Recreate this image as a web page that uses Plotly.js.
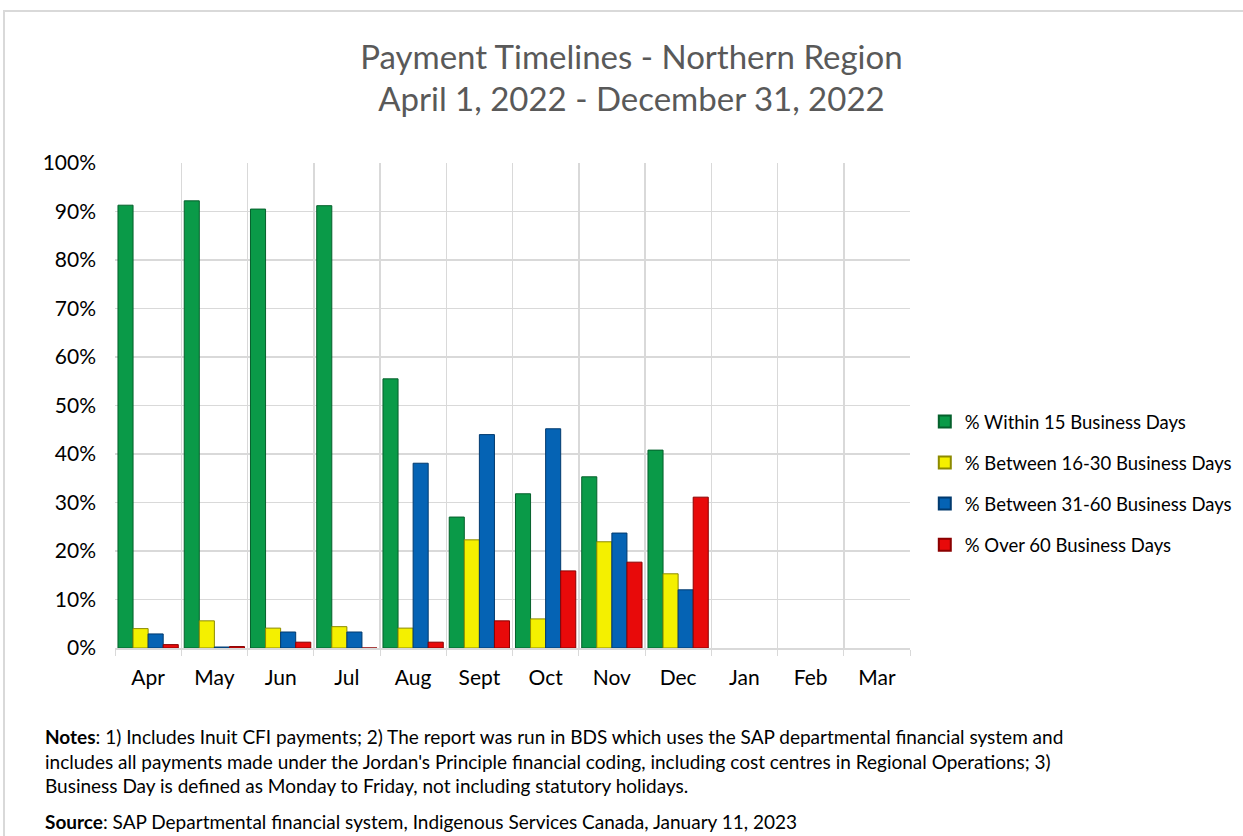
<!DOCTYPE html>
<html>
<head>
<meta charset="utf-8">
<script src="https://cdn.plot.ly/plotly-3.0.1.min.js"></script>
<style>
html,body{margin:0;padding:0;background:#fff;}
#frame{position:absolute;left:3px;top:10px;width:1260px;height:900px;border:2px solid #d9d9d9;box-sizing:border-box;}
#chart{position:absolute;left:0;top:0;width:1243px;height:836px;}
</style>
</head>
<body>
<div id="frame"></div>
<div id="chart"></div>
<script>
const months = ["Apr","May","Jun","Jul","Aug","Sept","Oct","Nov","Dec","Jan","Feb","Mar"];
const within15 = [0.913, 0.922, 0.905, 0.912, 0.555, 0.270, 0.318, 0.353, 0.408, null, null, null];
const between16_30 = [0.040, 0.056, 0.041, 0.044, 0.041, 0.223, 0.060, 0.219, 0.153, null, null, null];
const between31_60 = [0.029, 0.002, 0.033, 0.033, 0.381, 0.440, 0.452, 0.237, 0.120, null, null, null];
const over60 = [0.007, 0.003, 0.012, 0.000, 0.012, 0.056, 0.159, 0.177, 0.311, null, null, null];
const seriesNames = ["% Within 15 Business Days","% Between 16-30 Business Days","% Between 31-60 Business Days","% Over 60 Business Days"];
const colors = ["#0a9a48","#f4f000","#0563b4","#e80a0a"];
const lines = ["#05602c","#8c8a00","#023a6e","#8a0000"];
const series = [within15, between16_30, between31_60, over60];

const FONT = "Lato, 'Liberation Sans', sans-serif";
const traces = series.map((vals, i) => ({
  type: "bar",
  x: months,
  y: vals,
  name: seriesNames[i],
  legendgroup: "g" + i,
  marker: {color: colors[i], line: {color: lines[i], width: 1}},
  hoverinfo: "x+y+name"
}));

const layout = {
  width: 1243, height: 836,
  paper_bgcolor: "rgba(0,0,0,0)",
  plot_bgcolor: "#ffffff",
  margin: {l: 115, r: 333, t: 163, b: 188, autoexpand: false},
  barmode: "group",
  bargap: 0.09,
  bargroupgap: 0,
  title: {
    text: "Payment Timelines - Northern Region<br>April 1, 2022 - December 31, 2022",
    font: {family: FONT, size: 33, color: "#595959"},
    x: 0.508, xanchor: "center", y: 0.918, yanchor: "middle", yref: "container"
  },
  xaxis: {
    type: "category",
    tickson: "boundaries",
    showgrid: true, gridcolor: "#d9d9d9", gridwidth: 1.5,
    ticks: "outside", ticklen: 6, tickcolor: "#d9d9d9",
    showline: true, linecolor: "#d9d9d9", linewidth: 1.5,
    tickfont: {family: FONT, size: 21, color: "#000"},
    ticklabelstandoff: 10,
    fixedrange: true
  },
  yaxis: {
    range: [0, 1], dtick: 0.1, tickformat: ".0%",
    showgrid: true, gridcolor: "#d9d9d9", gridwidth: 1.5,
    zeroline: false, showline: false,
    tickfont: {family: FONT, size: 21, color: "#000"},
    ticklabelstandoff: 18,
    fixedrange: true
  },
  legend: {
    xref: "container", yref: "container",
    x: 0.744, xanchor: "left", y: 0.4217, yanchor: "middle",
    font: {family: FONT, size: 18.5, color: "#000"},
    itemsizing: "constant", tracegroupgap: 14,
    traceorder: "grouped"
  },
  annotations: [
    {
      xref: "paper", yref: "paper", x: -0.091, y: -0.155, xanchor: "left", yanchor: "top",
      align: "left", showarrow: false,
      font: {family: FONT, size: 19, color: "#000"},
      text: "<b>Notes</b>: 1) Includes Inuit CFI payments; 2) The report was run in BDS which uses the SAP departmental financial system and<br>includes all payments made under the Jordan's Principle financial coding, including cost centres in Regional Operations; 3)<br>Business Day is defined as Monday to Friday, not including statutory holidays."
    },
    {
      xref: "paper", yref: "paper", x: -0.091, y: -0.33, xanchor: "left", yanchor: "top",
      align: "left", showarrow: false,
      font: {family: FONT, size: 19, color: "#000"},
      text: "<b>Source</b>: SAP Departmental financial system, Indigenous Services Canada, January 11, 2023"
    }
  ]
};

Plotly.newPlot("chart", traces, layout, {displayModeBar: false, staticPlot: true});
</script>
</body>
</html>
